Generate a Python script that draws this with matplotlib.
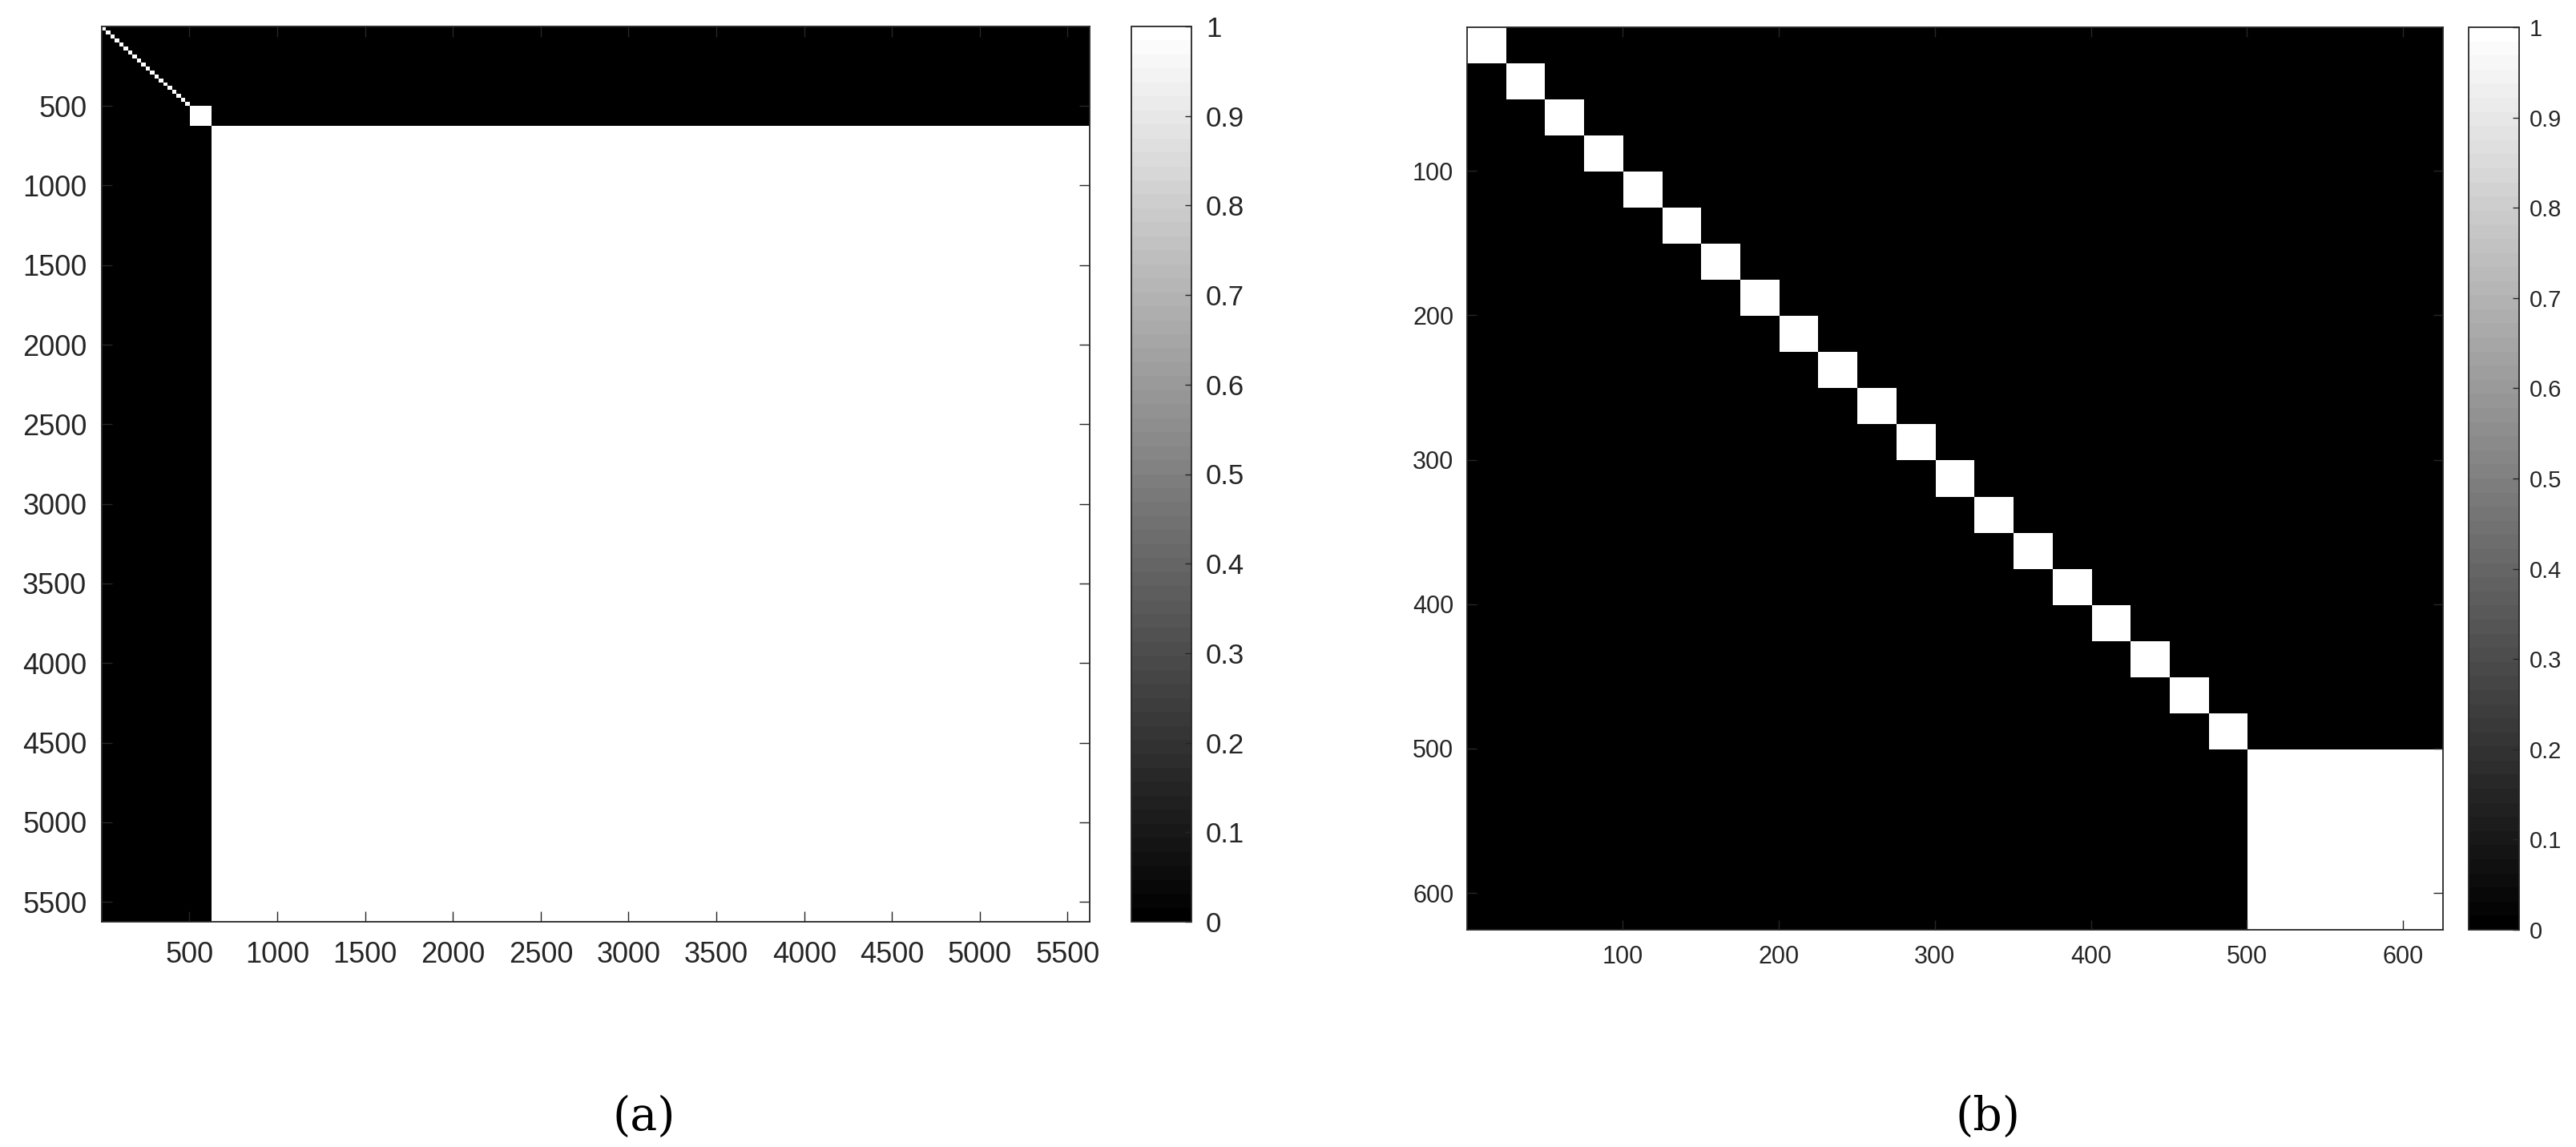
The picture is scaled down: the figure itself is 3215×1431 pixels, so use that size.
import numpy as np
import matplotlib
matplotlib.use("Agg")
import matplotlib.pyplot as plt

# block sizes of the two block-diagonal affinity matrices
blocks_a = [25, 25, 25, 25, 25, 25, 25, 25, 25, 25,
            25, 25, 25, 25, 25, 25, 25, 25, 25, 25, 125, 5000]
blocks_b = [25, 25, 25, 25, 25, 25, 25, 25, 25, 25,
            25, 25, 25, 25, 25, 25, 25, 25, 25, 25, 125]

ticks_a = [500, 1000, 1500, 2000, 2500, 3000, 3500, 4000, 4500, 5000, 5500]
ticks_b = [100, 200, 300, 400, 500, 600]
cbar_ticks = [0, 0.1, 0.2, 0.3, 0.4, 0.5, 0.6, 0.7, 0.8, 0.9, 1]
cbar_labels = ["0", "0.1", "0.2", "0.3", "0.4", "0.5", "0.6", "0.7", "0.8", "0.9", "1"]
panel_labels = ["(a)", "(b)"]

W, H = 3215, 1431
plt.rcParams['font.family'] = ['Liberation Sans', 'DejaVu Sans']
fig = plt.figure(figsize=(W / 100, H / 100), dpi=100)

axcol = "#262626"
cmap = plt.get_cmap("gray", 64)


def box(l, t, r, b):
    # pixel box -> figure fraction
    return [l / W, 1 - b / H, (r - l) / W, (b - t) / H]


def draw(ax_box, cax_box, sizes, ticks, fs, xpad, ypad, tlen, cfs, cpad):
    ax = fig.add_axes(box(*ax_box))
    cax = fig.add_axes(box(*cax_box))
    edges = 0.5 + np.concatenate([[0], np.cumsum(sizes)])
    C = np.eye(len(sizes))
    m = ax.pcolormesh(edges, edges, C, cmap=cmap, vmin=0, vmax=1,
                      shading="flat", edgecolors="none", antialiased=False)
    n = edges[-1]
    ax.set_xlim(0.5, n)
    ax.set_ylim(n, 0.5)
    ax.set_xticks(ticks)
    ax.set_yticks(ticks)
    ax.tick_params(direction="in", top=True, right=True, length=tlen,
                   width=1.0, color=axcol, labelcolor=axcol, labelsize=fs)
    ax.tick_params(axis="x", pad=xpad)
    ax.tick_params(axis="y", pad=ypad)
    for s in ax.spines.values():
        s.set_color(axcol)
        s.set_linewidth(1.3)

    cb = fig.colorbar(m, cax=cax, ticks=cbar_ticks)
    cb.ax.set_yticklabels(cbar_labels)
    cb.ax.tick_params(direction="in", length=5.5, width=1.0, color=axcol,
                      labelcolor=axcol, labelsize=cfs, pad=cpad)
    cb.outline.set_edgecolor(axcol)
    cb.outline.set_linewidth(1.3)
    return ax


draw((127, 33, 1360, 1150), (1412, 33, 1487, 1150), blocks_a, ticks_a,
     26, 17, 13.5, 9.5, 25, 13)
draw((1831, 34, 3049, 1160), (3081, 34, 3144, 1160), blocks_b, ticks_b,
     22, 14, 12, 8.6, 21, 9.5)

fig.text(804 / W, 1 - 1394 / H, panel_labels[0], ha="center", va="center",
         fontsize=41, family=["DejaVu Serif"])
fig.text(2481 / W, 1 - 1394 / H, panel_labels[1], ha="center", va="center",
         fontsize=41, family=["DejaVu Serif"])

fig.savefig("out.png", dpi=100)
